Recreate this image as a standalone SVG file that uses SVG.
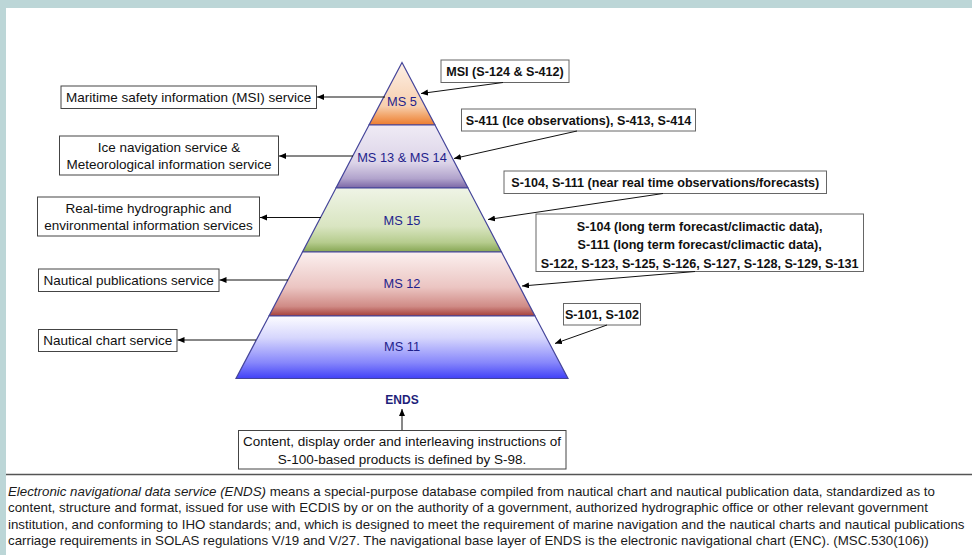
<svg xmlns="http://www.w3.org/2000/svg" width="972" height="555" viewBox="0 0 972 555">
<style>
.bg{fill:#bcd6d7}
.box{fill:#fff;stroke:#444;stroke-width:1}
.rbox{fill:#fff;stroke:#666;stroke-width:1}
.lt{font-family:"Liberation Sans",Arial,sans-serif;font-size:13.5px;fill:#111;text-anchor:middle}
.rt{font-family:"Liberation Sans",Arial,sans-serif;font-size:12.6px;font-weight:bold;fill:#111;text-anchor:middle}
.ms{font-family:"Liberation Sans",Arial,sans-serif;font-size:12.8px;fill:#1f1f8c;text-anchor:middle}
.lay{stroke:#45459a;stroke-width:1.2}
.con{stroke:#111;stroke-width:1;fill:none;marker-end:url(#ah)}
.par{font-family:"Liberation Sans",Arial,sans-serif;font-size:13.3px;fill:#1a1a1a}
</style>
<defs>
<marker id="ah" markerUnits="userSpaceOnUse" markerWidth="8" markerHeight="8" refX="7" refY="3" orient="auto">
<path d="M0,0 L7,3 L0,6 Z" fill="#000"/>
</marker>
<linearGradient id="g5" x1="0" y1="0" x2="0" y2="1">
<stop offset="0" stop-color="#fdf0e6"/><stop offset="0.7" stop-color="#f7cfae"/><stop offset="0.85" stop-color="#f2a56a"/><stop offset="1" stop-color="#ec7b2e"/>
</linearGradient>
<linearGradient id="g13" x1="0" y1="0" x2="0" y2="1">
<stop offset="0" stop-color="#efebf5"/><stop offset="0.6" stop-color="#dcd4e8"/><stop offset="0.85" stop-color="#b1a3cc"/><stop offset="1" stop-color="#7a66a6"/>
</linearGradient>
<linearGradient id="g15" x1="0" y1="0" x2="0" y2="1">
<stop offset="0" stop-color="#eff4e6"/><stop offset="0.6" stop-color="#d9e5c1"/><stop offset="0.85" stop-color="#b6cc8e"/><stop offset="1" stop-color="#86a653"/>
</linearGradient>
<linearGradient id="g12" x1="0" y1="0" x2="0" y2="1">
<stop offset="0" stop-color="#fbf0ef"/><stop offset="0.55" stop-color="#ebc5c2"/><stop offset="0.85" stop-color="#d08b86"/><stop offset="1" stop-color="#a53f3a"/>
</linearGradient>
<linearGradient id="g11" x1="0" y1="0" x2="0" y2="1">
<stop offset="0" stop-color="#fcfcff"/><stop offset="0.35" stop-color="#d6d6fd"/><stop offset="0.75" stop-color="#8686fb"/><stop offset="1" stop-color="#4141f7"/>
</linearGradient>
</defs>

<rect x="0" y="0" width="972" height="555" class="bg"/>
<rect x="6" y="8" width="966" height="547" fill="#fff"/>

<g id="pyramid">
<g id="ms5"><polygon class="lay" fill="url(#g5)" points="402,62.5 435,125 369,125"/><text class="ms" x="402" y="106">MS 5</text></g>
<g id="ms13"><polygon class="lay" fill="url(#g13)" points="369,125 435,125 468,188 336,188"/><text class="ms" x="402" y="162">MS 13 &amp; MS 14</text></g>
<g id="ms15"><polygon class="lay" fill="url(#g15)" points="336,188 468,188 501.5,252 302.5,252"/><text class="ms" x="402" y="224.5">MS 15</text></g>
<g id="ms12"><polygon class="lay" fill="url(#g12)" points="302.5,252 501.5,252 535,316 269,316"/><text class="ms" x="402" y="288">MS 12</text></g>
<g id="ms11"><polygon class="lay" fill="url(#g11)" points="269,316 535,316 568,378.5 236,378.5"/><text class="ms" x="402" y="351">MS 11</text></g>
</g>

<g id="left1"><rect class="box" x="61" y="86" width="255.5" height="22.5"/><text class="lt" x="188.7" y="102">Maritime safety information (MSI) service</text></g>
<g id="left2"><rect class="box" x="59.5" y="136" width="219" height="39"/><text class="lt" x="169" y="151.5">Ice navigation service &amp;</text><text class="lt" x="169" y="169">Meteorological information service</text></g>
<g id="left3"><rect class="box" x="37.5" y="197" width="222" height="39"/><text class="lt" x="148.5" y="212.5">Real-time hydrographic and</text><text class="lt" x="148.5" y="230">environmental information services</text></g>
<g id="left4"><rect class="box" x="38.5" y="269" width="180.5" height="22.5"/><text class="lt" x="128.7" y="285">Nautical publications service</text></g>
<g id="left5"><rect class="box" x="38.5" y="329.5" width="138.5" height="22"/><text class="lt" x="107.7" y="345">Nautical chart service</text></g>

<g id="right1"><rect class="rbox" x="441" y="60" width="128" height="22.5"/><text class="rt" x="505" y="75.5">MSI (S-124 &amp; S-412)</text></g>
<g id="right2"><rect class="rbox" x="461.5" y="109" width="234" height="22"/><text class="rt" x="578.5" y="124.5">S-411 (Ice observations), S-413, S-414</text></g>
<g id="right3"><rect class="rbox" x="504" y="171" width="322.5" height="22.5"/><text class="rt" x="665.3" y="186.5">S-104, S-111 (near real time observations/forecasts)</text></g>
<g id="right4"><rect class="rbox" x="536" y="214" width="327.5" height="57.5"/><text class="rt" x="699.7" y="230.5">S-104 (long term forecast/climactic data),</text><text class="rt" x="699.7" y="249">S-111 (long term forecast/climactic data),</text><text class="rt" x="699.7" y="267.5">S-122, S-123, S-125, S-126, S-127, S-128, S-129, S-131</text></g>
<g id="right5"><rect class="rbox" x="563.5" y="303.5" width="77" height="21.5"/><text class="rt" x="602" y="318.5">S-101, S-102</text></g>

<g id="ends"><text x="402" y="404" style="font-family:'Liberation Sans',Arial,sans-serif;font-size:12px;font-weight:bold;fill:#1f1f7a;text-anchor:middle">ENDS</text></g>
<g id="s98"><rect class="box" x="238.5" y="430.5" width="327.5" height="38.5"/><text class="lt" x="402" y="446">Content, display order and interleaving instructions of</text><text class="lt" x="402" y="464">S-100-based products is defined by S-98.</text></g>

<g id="connectors">
<line class="con" x1="385" y1="97" x2="317" y2="97"/>
<line class="con" x1="353" y1="156" x2="279" y2="156"/>
<line class="con" x1="321" y1="217.5" x2="260" y2="217.5"/>
<line class="con" x1="288" y1="280" x2="219.5" y2="280"/>
<line class="con" x1="256" y1="340" x2="177.5" y2="340"/>
<line class="con" x1="503" y1="82.5" x2="421" y2="93.5"/>
<line class="con" x1="577" y1="131" x2="454" y2="158.5"/>
<line class="con" x1="663" y1="193.5" x2="488" y2="219.5"/>
<line class="con" x1="695" y1="271.5" x2="522" y2="286"/>
<line class="con" x1="607" y1="325" x2="555" y2="343.5"/>
<line class="con" x1="402" y1="430" x2="402" y2="409"/>
</g>

<line x1="6" y1="474.5" x2="972" y2="474.5" stroke="#555" stroke-width="1.6"/>
<g id="paragraph">
<text class="par" x="8" y="495.5"><tspan font-style="italic">Electronic navigational data service (ENDS)</tspan> means a special-purpose database compiled from nautical chart and nautical publication data, standardized as to</text>
<text class="par" x="8" y="512">content, structure and format, issued for use with ECDIS by or on the authority of a government, authorized hydrographic office or other relevant government</text>
<text class="par" x="8" y="528.5">institution, and conforming to IHO standards; and, which is designed to meet the requirement of marine navigation and the nautical charts and nautical publications</text>
<text class="par" x="8" y="545">carriage requirements in SOLAS regulations V/19 and V/27. The navigational base layer of ENDS is the electronic navigational chart (ENC). (MSC.530(106))</text>
</g>
</svg>
